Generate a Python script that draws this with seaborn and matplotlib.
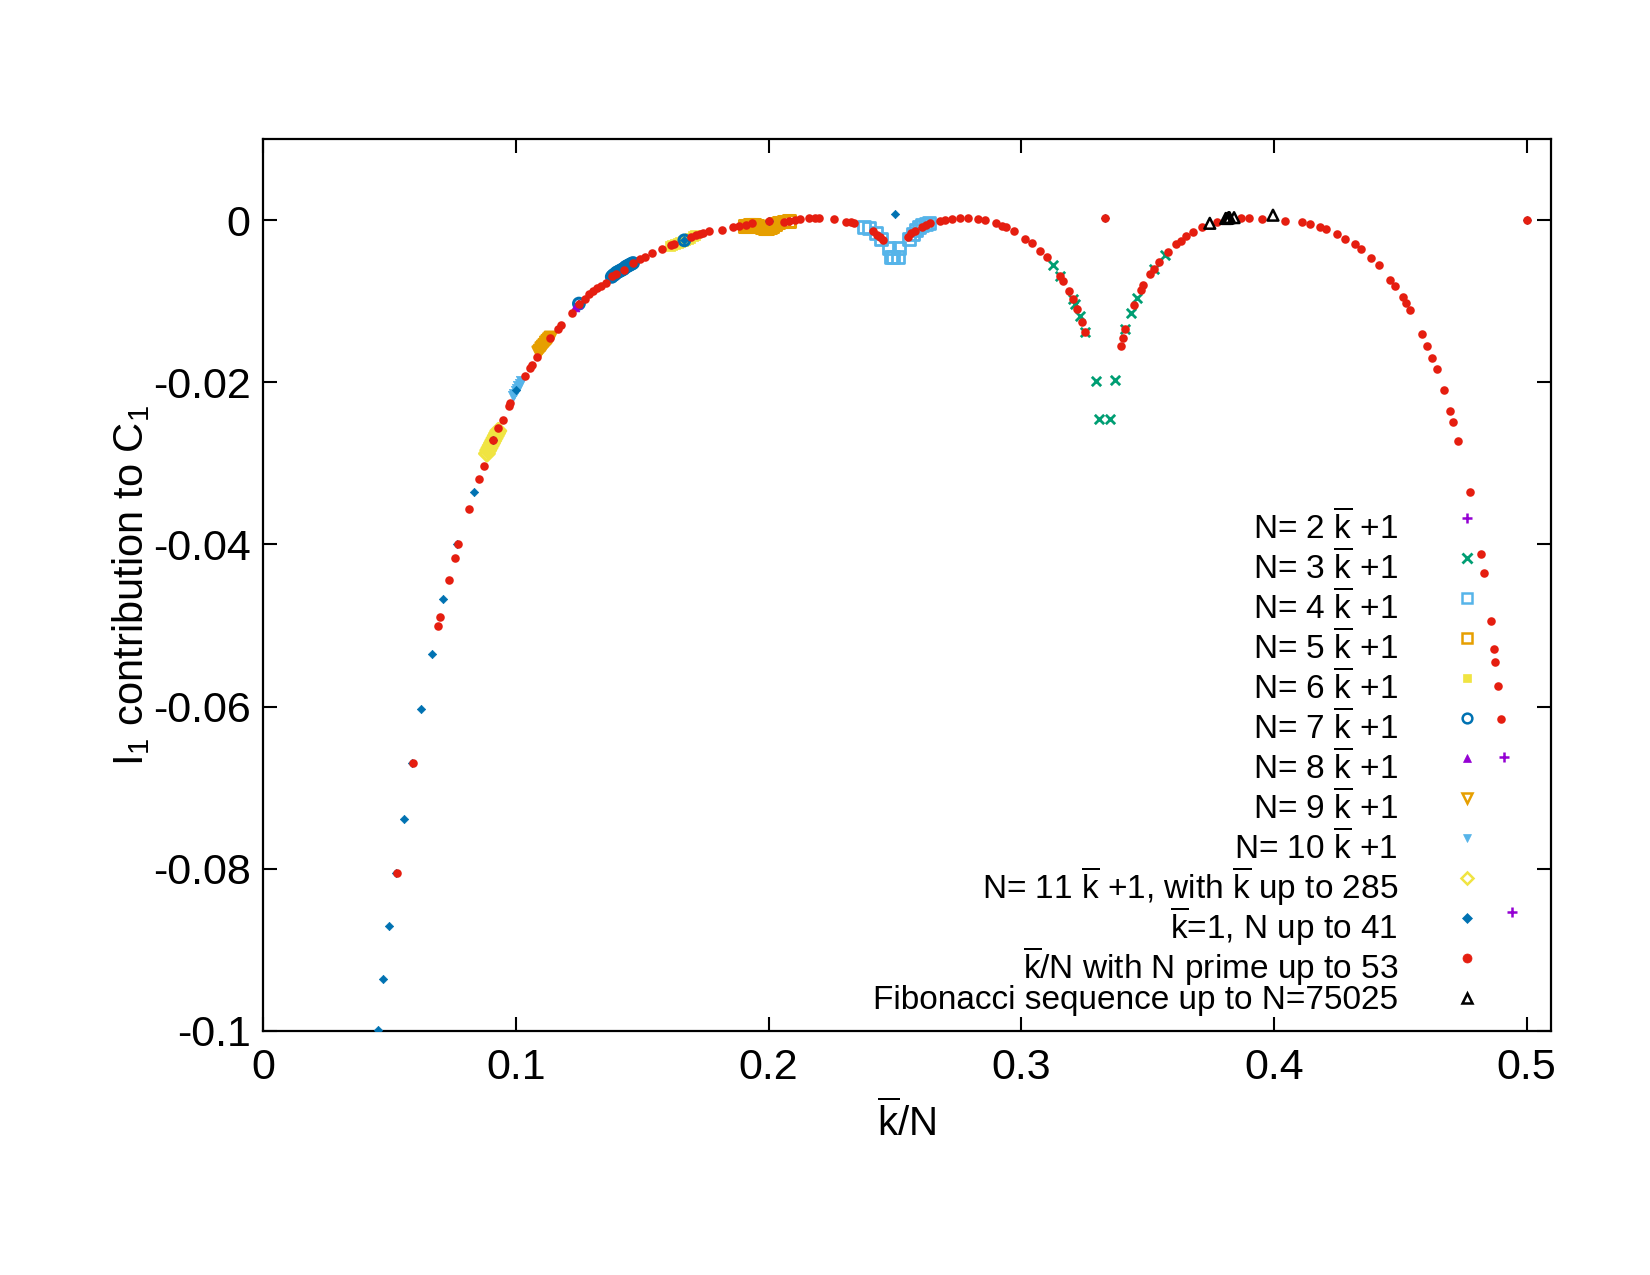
import matplotlib
matplotlib.use("Agg")
import matplotlib.pyplot as plt
import seaborn as sns
import pandas as pd

# ---------------- data ----------------
KB = r"$\overline{\mathrm{k}}$"

prime_x = [0.0531, 0.0592, 0.0693, 0.0701, 0.0734, 0.0758, 0.0772, 0.0814, 0.0855, 0.0873,
           0.0911, 0.0931, 0.0948, 0.0974, 0.0978, 0.1038, 0.1057, 0.1064, 0.1083, 0.1134,
           0.1166, 0.1180, 0.1223, 0.1252, 0.1272, 0.1291, 0.1307, 0.1322, 0.1337, 0.1356,
           0.1382, 0.1395, 0.1427, 0.1464, 0.1490, 0.1510, 0.1540, 0.1580, 0.1614, 0.1628,
           0.1694, 0.1713, 0.1727, 0.1740, 0.1764, 0.1816, 0.1859, 0.1885, 0.1911, 0.1935,
           0.2001, 0.2063, 0.2083, 0.2103, 0.2123, 0.2162, 0.2182, 0.2199, 0.2261, 0.2306,
           0.2326, 0.2339, 0.2412, 0.2428, 0.2441, 0.2452, 0.2550, 0.2564, 0.2580, 0.2606,
           0.2623, 0.2639, 0.2680, 0.2700, 0.2725, 0.2757, 0.2788, 0.2827, 0.2855, 0.2900,
           0.2923, 0.2939, 0.2973, 0.3016, 0.3041, 0.3074, 0.3101, 0.3153, 0.3167, 0.3190,
           0.3203, 0.3222, 0.3240, 0.3253, 0.3333, 0.3393, 0.3401, 0.3411, 0.3445, 0.3474,
           0.3483, 0.3510, 0.3527, 0.3545, 0.3581, 0.3613, 0.3632, 0.3653, 0.3680, 0.3717,
           0.3776, 0.3868, 0.3901, 0.3951, 0.4043, 0.4112, 0.4142, 0.4184, 0.4204, 0.4251,
           0.4281, 0.4319, 0.4343, 0.4383, 0.4414, 0.4460, 0.4477, 0.4510, 0.4523, 0.4538,
           0.4586, 0.4607, 0.4626, 0.4643, 0.4674, 0.4697, 0.4710, 0.4728, 0.4775, 0.4821,
           0.4832, 0.4858, 0.4870, 0.4876, 0.4885, 0.4898, 0.5000]
prime_y = [-0.0805, -0.0670, -0.0500, -0.0489, -0.0444, -0.0417, -0.0400, -0.0356, -0.0319, -0.0303,
           -0.0271, -0.0257, -0.0247, -0.0229, -0.0225, -0.0192, -0.0183, -0.0179, -0.0169, -0.0146,
           -0.0134, -0.0129, -0.0114, -0.0103, -0.0097, -0.0091, -0.0088, -0.0084, -0.0081, -0.0077,
           -0.0069, -0.0066, -0.0061, -0.0053, -0.0048, -0.0045, -0.0041, -0.0036, -0.0031, -0.0029,
           -0.0021, -0.0019, -0.0017, -0.0016, -0.0014, -0.0012, -0.0009, -0.0007, -0.0006, -0.0004,
           -0.0001, -0.0002, -0.0001, 0.0000, 0.0001, 0.0002, 0.0002, 0.0002, 0.0001, -0.0002,
           -0.0003, -0.0004, -0.0013, -0.0018, -0.0021, -0.0025, -0.0021, -0.0016, -0.0013, -0.0009,
           -0.0006, -0.0004, -0.0001, 0.0000, 0.0001, 0.0002, 0.0002, 0.0001, 0.0000, -0.0004,
           -0.0007, -0.0009, -0.0014, -0.0023, -0.0028, -0.0038, -0.0046, -0.0069, -0.0075, -0.0087,
           -0.0097, -0.0110, -0.0126, -0.0138, 0.0003, -0.0155, -0.0146, -0.0134, -0.0105, -0.0086,
           -0.0080, -0.0067, -0.0060, -0.0052, -0.0039, -0.0030, -0.0026, -0.0020, -0.0015, -0.0009,
           -0.0002, 0.0002, 0.0003, 0.0001, -0.0001, -0.0003, -0.0005, -0.0008, -0.0011, -0.0017,
           -0.0023, -0.0030, -0.0036, -0.0047, -0.0056, -0.0074, -0.0081, -0.0095, -0.0102, -0.0111,
           -0.0141, -0.0155, -0.0170, -0.0184, -0.0210, -0.0236, -0.0249, -0.0272, -0.0335, -0.0412,
           -0.0435, -0.0494, -0.0529, -0.0545, -0.0575, -0.0615, 0.0000]

k1_x = [0.0455, 0.0476, 0.0500, 0.0526, 0.0556, 0.0588, 0.0625, 0.0667, 0.0714, 0.0769,
        0.0833, 0.0909, 0.1000, 0.1250, 0.1429, 0.1667, 0.2000, 0.2500, 0.3333, 0.5000]
k1_y = [-0.0999, -0.0936, -0.0871, -0.0805, -0.0738, -0.0670, -0.0603, -0.0535, -0.0467, -0.0400,
        -0.0335, -0.0271, -0.0210, -0.0103, -0.0061, -0.0025, -0.0001, 0.0007, 0.0003, 0.0000]

n2_x = [0.4911, 0.4943]
n2_y = [-0.0662, -0.0853]

n3_x = [0.3124, 0.3153, 0.3203, 0.3212, 0.3232, 0.3253, 0.3295, 0.3308, 0.3350, 0.3369,
        0.3411, 0.3433, 0.3458, 0.3527, 0.3569]
n3_y = [-0.0055, -0.0069, -0.0097, -0.0104, -0.0118, -0.0138, -0.0199, -0.0245, -0.0245, -0.0197,
        -0.0134, -0.0114, -0.0096, -0.0060, -0.0043]

n4_x = [0.2379, 0.2399, 0.2425, 0.2445, 0.2478, 0.2484, 0.2491, 0.2511, 0.2518, 0.2557,
        0.2570, 0.2583, 0.2596, 0.2609, 0.2622, 0.2636]
n4_y = [-0.0008, -0.0010, -0.0016, -0.0023, -0.0035, -0.0045, -0.0045, -0.0045, -0.0035, -0.0023,
        -0.0017, -0.0012, -0.0009, -0.0006, -0.0005, -0.0004]

n5_x = [0.1905, 0.1915, 0.1925, 0.1935, 0.1945, 0.1955, 0.1965, 0.1975, 0.1985, 0.1995,
        0.2005, 0.2015, 0.2025, 0.2040, 0.2060, 0.2080]
n5_y = [-0.0007, -0.0007, -0.0006, -0.0006, -0.0006, -0.0007, -0.0008, -0.0009, -0.0010, -0.0010,
        -0.0009, -0.0007, -0.0005, -0.0003, -0.0002, -0.0001]

n6_x = [0.1612, 0.1620, 0.1630, 0.1640, 0.1650, 0.1660, 0.1670, 0.1680, 0.1690, 0.1700, 0.1710]
n6_y = [-0.0032, -0.0031, -0.0029, -0.0028, -0.0027, -0.0026, -0.0024, -0.0023, -0.0022, -0.0020, -0.0019]

n7_x = [0.1250, 0.1380, 0.1386, 0.1392, 0.1398, 0.1404, 0.1410, 0.1416, 0.1422, 0.1428,
        0.1434, 0.1440, 0.1446, 0.1452, 0.1458, 0.1464, 0.1667]
n7_y = [-0.0103, -0.0070, -0.0068, -0.0067, -0.0065, -0.0064, -0.0063, -0.0062, -0.0061, -0.0060,
        -0.0058, -0.0057, -0.0056, -0.0055, -0.0054, -0.0053, -0.0025]

n8_x = [0.1235, 0.1245]
n8_y = [-0.0107, -0.0104]

n9_x = [0.1090, 0.1096, 0.1102, 0.1108, 0.1114, 0.1120, 0.1126, 0.1132, 0.1138]
n9_y = [-0.0163, -0.0161, -0.0158, -0.0156, -0.0154, -0.0151, -0.0149, -0.0147, -0.0145]

n10_x = [0.0990, 0.0995, 0.1000, 0.1005, 0.1010, 0.1015, 0.1020]
n10_y = [-0.0217, -0.0214, -0.0211, -0.0208, -0.0205, -0.0202, -0.0199]

n11_x = [0.0886, 0.0891, 0.0896, 0.0901, 0.0906, 0.0911, 0.0916, 0.0921, 0.0926, 0.0931]
n11_y = [-0.0288, -0.0284, -0.0281, -0.0278, -0.0275, -0.0272, -0.0269, -0.0266, -0.0263, -0.0260]

fib_x = [0.3746, 0.3809, 0.3815, 0.3820, 0.3824, 0.3842, 0.3996]
fib_y = [-0.0004, 0.0002, 0.0002, 0.0003, 0.0003, 0.0003, 0.0006]

labels = [f"N= 2 {KB} +1", f"N= 3 {KB} +1", f"N= 4 {KB} +1", f"N= 5 {KB} +1",
          f"N= 6 {KB} +1", f"N= 7 {KB} +1", f"N= 8 {KB} +1", f"N= 9 {KB} +1",
          f"N= 10 {KB} +1", f"N= 11 {KB} +1, with {KB} up to 285",
          f"{KB}=1, N up to 41", f"{KB}/N with N prime up to 53",
          "Fibonacci sequence up to N=75025"]

xticks = [0, 0.1, 0.2, 0.3, 0.4, 0.5]
xticklabels = ["0", "0.1", "0.2", "0.3", "0.4", "0.5"]
yticks = [0, -0.02, -0.04, -0.06, -0.08, -0.1]
yticklabels = ["0", "-0.02", "-0.04", "-0.06", "-0.08", "-0.1"]

# ---------------- style ----------------
sns.set_theme(style="white")
plt.rcParams['font.family'] = ['Liberation Sans', 'DejaVu Sans']
plt.rcParams['mathtext.fontset'] = 'custom'
plt.rcParams['mathtext.rm'] = 'Liberation Sans'
plt.rcParams['mathtext.it'] = 'Liberation Sans:italic'
plt.rcParams['axes.unicode_minus'] = False

PURPLE, GREEN, LBLUE, ORANGE = '#9400D3', '#009E73', '#56B4E9', '#E69F00'
YELLOW, BLUE, RED, BLACK = '#F0E442', '#0072B2', '#E51E10', '#000000'

# (x, y, marker, color, filled, scatter size, linewidth, legend markersize)
series = [
    (n2_x, n2_y, '+', PURPLE, True, 50, 1.8, 7),
    (n3_x, n3_y, 'x', GREEN, True, 45, 2.0, 7),
    (n4_x, n4_y, 's', LBLUE, False, 75, 2.0, 7),
    (n5_x, n5_y, 's', ORANGE, False, 70, 2.2, 7),
    (n6_x, n6_y, 's', YELLOW, True, 60, 0.5, 6),
    (n7_x, n7_y, 'o', BLUE, False, 60, 2.2, 7),
    (n8_x, n8_y, '^', PURPLE, True, 40, 0.5, 6),
    (n9_x, n9_y, 'v', ORANGE, False, 65, 2.2, 7),
    (n10_x, n10_y, 'v', LBLUE, True, 55, 0.5, 6),
    (n11_x, n11_y, 'D', YELLOW, False, 55, 2.4, 6),
    (k1_x, k1_y, 'D', BLUE, True, 18, 0.5, 5),
    (prime_x, prime_y, 'o', RED, True, 38, 0.0, 6.5),
    (fib_x, fib_y, '^', BLACK, False, 60, 1.8, 7),
]

fig = plt.figure(figsize=(16.5, 12.75), dpi=100)
ax = fig.add_axes([0.1594, 0.1914, 0.7806, 0.6996])

for i, (sx, sy, mk, col, filled, sz, lw, lms) in enumerate(series):
    df = pd.DataFrame({"x": sx, "y": sy})
    if mk in ['+', 'x']:
        sns.scatterplot(data=df, x="x", y="y", ax=ax, marker=mk, color=col, s=sz,
                        linewidth=lw, legend=False, zorder=3 + i)
    elif filled:
        sns.scatterplot(data=df, x="x", y="y", ax=ax, marker=mk, color=col, s=sz,
                        edgecolor=col, linewidth=lw, legend=False, zorder=3 + i)
    else:
        sns.scatterplot(data=df, x="x", y="y", ax=ax, marker=mk, s=sz,
                        facecolor='none', edgecolor=col, linewidth=lw, legend=False,
                        zorder=3 + i)

# ---- key (gnuplot style: right-aligned text, sample to its right) ----
key_text_x, key_mark_x = 0.8812, 0.9348
key_base0, key_mark0, key_step = 0.5517, 0.5749, 0.04484
for i, (lab, spec) in enumerate(zip(labels, series)):
    _, _, mk, col, filled, sz, lw, lms = spec
    base = key_base0 - i * key_step
    if i == len(labels) - 1:
        base += 0.0114          # gnuplot squeezes the last key line upward
    ax.text(key_text_x, base, lab, transform=ax.transAxes, ha='right', va='baseline',
            fontsize=24, color='black')
    my = key_mark0 - i * key_step
    if mk in ['+', 'x']:
        ax.plot([key_mark_x], [my], transform=ax.transAxes, ls='none', marker=mk,
                color=col, markersize=lms, markeredgewidth=lw, clip_on=False)
    elif filled:
        ax.plot([key_mark_x], [my], transform=ax.transAxes, ls='none', marker=mk,
                color=col, markersize=lms, markeredgewidth=0.5, clip_on=False)
    else:
        ax.plot([key_mark_x], [my], transform=ax.transAxes, ls='none', marker=mk,
                color=col, markerfacecolor='none', markersize=lms,
                markeredgewidth=1.8, clip_on=False)

ax.set_xlim(0, 0.5096)
ax.set_ylim(-0.1, 0.01)
ax.set_xticks(xticks)
ax.set_xticklabels(xticklabels)
ax.set_yticks(yticks)
ax.set_yticklabels(yticklabels)
ax.tick_params(axis='both', direction='in', length=10, width=1.5, colors='black',
               labelsize=31, top=True, right=True, bottom=True, left=True)
ax.tick_params(axis='x', pad=12)
ax.tick_params(axis='y', pad=9)
for sp in ax.spines.values():
    sp.set_visible(True)
    sp.set_color('black')
    sp.set_linewidth(1.6)
ax.grid(False)

ax.set_xlabel(f"{KB}/N", fontsize=29, labelpad=9, color='black')
ax.set_ylabel(r"I$_1$ contribution to C$_1$", fontsize=30, labelpad=0.5, color='black')

fig.savefig("out.png", dpi=100, facecolor='white')
